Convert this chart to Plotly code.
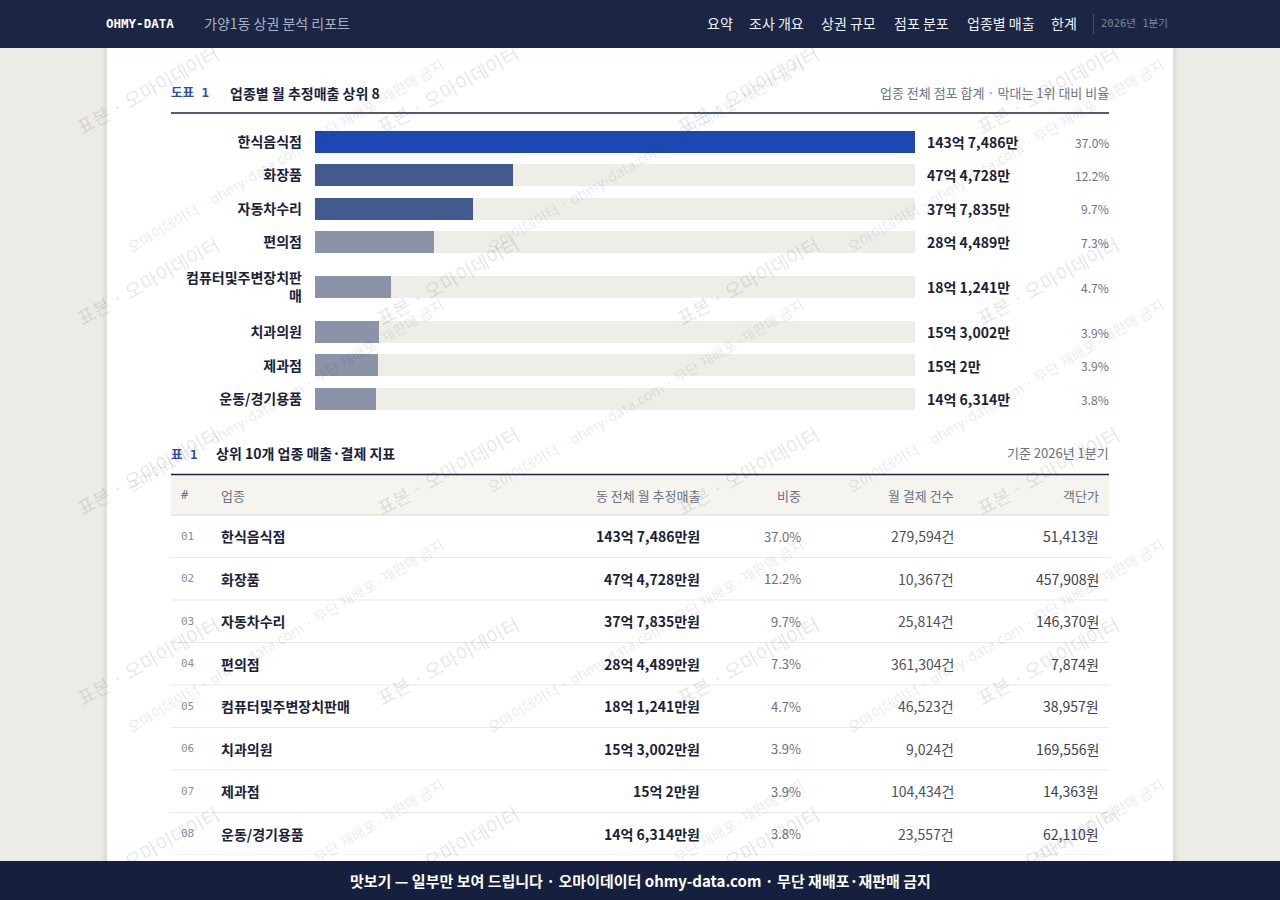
import plotly.graph_objects as go

W, H = 1280, 900

# ---------------- data ----------------
categories = ["한식음식점", "화장품", "자동차수리", "편의점",
              "컴퓨터및주변장치판매", "치과의원", "제과점", "운동/경기용품"]
sales_eok = [143.7486, 47.4728, 37.7835, 28.4489, 18.1241, 15.3002, 15.0002, 14.6314]  # 억원
share_pct = [37.0, 12.2, 9.7, 7.3, 4.7, 3.9, 3.9, 3.8]
payments = [279594, 10367, 25814, 361304, 46523, 9024, 104434, 23557]
avg_price = [51413, 457908, 146370, 7874, 38957, 169556, 14363, 62110]

nav_items = ["요약", "조사 개요", "상권 규모", "점포 분포", "업종별 매출", "한계"]
table_headers = ["#", "업종", "동 전체 월 추정매출", "비중", "월 결제 건수", "객단가"]

# ---------------- style ----------------
FONT = "Noto Sans CJK KR, Noto Sans, sans-serif"
MONO = "DejaVu Sans Mono, Noto Sans CJK KR, monospace"
NAVY = "#1b2644"
TEXT = "#1a2238"
BLUE = "#1e47b4"
MID = "#435a8e"
GRAY = "#8a93a7"
TRACK = "#efede8"
BG = "#edebe6"
SUB = "#6b7280"


def px(x):
    return x / W


def py(y):
    return 1 - y / H


def fmt_eok(v):
    eok = int(v)
    man = int(round((v - eok) * 10000))
    return f"{eok}억 {man:,}만" if man else f"{eok}억"


WRAP = 9


def wrap(s):
    return s if len(s) <= WRAP else s[:WRAP] + "<br>" + s[WRAP:]


n = len(categories)
vmax = max(sales_eok)
bar_colors = [BLUE if i == 0 else (MID if i < 3 else GRAY) for i in range(n)]

# row slot heights (wrapped labels take more room)
ROW = 33.4
EXTRA = 23.2
heights = [ROW + (EXTRA if len(c) > WRAP else 0) for c in categories]
centers = []
acc = 0.0
for h in heights:
    centers.append(acc + h / 2)
    acc += h
total = acc
BAR_TOP = 142 - heights[0] / 2

fig = go.Figure()

# track bars + value bars
fig.add_trace(go.Bar(x=[vmax] * n, y=centers, orientation="h", width=22,
                     marker=dict(color=TRACK, line=dict(width=0)), hoverinfo="skip"))
fig.add_trace(go.Bar(x=sales_eok, y=centers, orientation="h", width=22,
                     marker=dict(color=bar_colors, line=dict(width=0)), hoverinfo="skip"))

# invisible anchor for table axes
fig.add_trace(go.Scatter(x=[0.5] * n, y=list(range(n)), xaxis="x2", yaxis="y2",
                         mode="markers", marker=dict(opacity=0), hoverinfo="skip"))

TABLE_TOP = 515
ROW_H = 42.5

shapes = []
# card shadow + card
shapes.append(dict(type="rect", xref="paper", yref="paper", x0=px(102), x1=px(1178), y0=py(861), y1=py(48),
                   fillcolor="rgba(0,0,0,0.025)", line=dict(width=0), layer="below"))
shapes.append(dict(type="rect", xref="paper", yref="paper", x0=px(104.5), x1=px(1175.5), y0=py(861), y1=py(48),
                   fillcolor="rgba(0,0,0,0.03)", line=dict(width=0), layer="below"))
shapes.append(dict(type="rect", xref="paper", yref="paper", x0=px(107), x1=px(1173), y0=py(861), y1=py(48),
                   fillcolor="white", line=dict(width=0), layer="below"))
# chart title rule
shapes.append(dict(type="line", xref="paper", yref="paper", x0=px(171), x1=px(1109), y0=py(113), y1=py(113),
                   line=dict(color=NAVY, width=1.5), layer="below"))
# table header
shapes.append(dict(type="rect", xref="paper", yref="paper", x0=px(171), x1=px(1109), y0=py(TABLE_TOP), y1=py(474.5),
                   fillcolor="#f5f4ef", line=dict(width=0), layer="below"))
shapes.append(dict(type="line", xref="paper", yref="paper", x0=px(171), x1=px(1109), y0=py(474.5), y1=py(474.5),
                   line=dict(color=NAVY, width=1.5), layer="below"))
shapes.append(dict(type="line", xref="paper", yref="paper", x0=px(171), x1=px(1109), y0=py(TABLE_TOP), y1=py(TABLE_TOP),
                   line=dict(color="#dedbd2", width=1), layer="below"))
for i in range(n):
    shapes.append(dict(type="line", xref="paper", yref="y2", x0=px(171), x1=px(1109), y0=i + 0.5, y1=i + 0.5,
                       line=dict(color="#ebe9e3", width=1), layer="below"))

ann = []


def A(text, x, y, xanchor="left", size=14, color=TEXT, family=FONT, weight="normal", yref="paper", **kw):
    d = dict(text=text, x=x, y=y, xref="paper", yref=yref, xanchor=xanchor, yanchor="middle",
             showarrow=False, borderpad=0,
             font=dict(size=size, color=color, family=family, weight=weight))
    d.update(kw)
    ann.append(d)


# chart heading
A("도표 1", px(170), py(93), size=12.5, color="#2a4db8", family=MONO, weight="bold")
A("업종별 월 추정매출 상위 8", px(229), py(93), size=14, color=TEXT, weight="bold")
A("업종 전체 점포 합계 · 막대는 1위 대비 비율", px(1110), py(93), xanchor="right", size=13, color=SUB)

# value + share labels
for i in range(n):
    A(fmt_eok(sales_eok[i]), px(926), centers[i], size=14, color=TEXT, weight="bold", yref="y")
    A(f"{share_pct[i]:.1f}%", px(1110), centers[i], xanchor="right", size=12, color=SUB, yref="y")

# table heading
A("표 1", px(170), py(454), size=12.5, color="#2a4db8", family=MONO, weight="bold")
A("상위 10개 업종 매출·결제 지표", px(215), py(453), size=14, color=TEXT, weight="bold")
A("기준 2026년 1분기", px(1110), py(453), xanchor="right", size=13, color=SUB)

col_x = [180, 220, 701, 802, 955, 1100]
col_anchor = ["left", "left", "right", "right", "right", "right"]
for j, hdr in enumerate(table_headers):
    A(hdr, px(col_x[j]), py(495), xanchor=col_anchor[j], size=13 if j else 12, color=SUB,
      family=MONO if j == 0 else FONT)

for i in range(n):
    A(f"{i + 1:02d}", px(col_x[0]), i, size=11, color="#8a8f9c", family=MONO, yref="y2")
    A(categories[i], px(col_x[1]), i, size=14, color=TEXT, weight="bold", yref="y2")
    A(fmt_eok(sales_eok[i]) + "원", px(col_x[2]), i, xanchor="right", size=14, color=TEXT, weight="bold", yref="y2")
    A(f"{share_pct[i]:.1f}%", px(col_x[3]), i, xanchor="right", size=13, color=SUB, yref="y2")
    A(f"{payments[i]:,}건", px(col_x[4]), i, xanchor="right", size=14, color="#4b5060", yref="y2")
    A(f"{avg_price[i]:,}원", px(col_x[5]), i, xanchor="right", size=14, color="#3a4150", yref="y2")

# watermarks
WM1 = "표본 · 오마이데이터"
WM2 = "오마이데이터 · ohmy-data.com · 무단 재배포·재판매 금지"
for j in range(0, 5):
    for i in range(0, 4):
        ann.append(dict(text=WM1, x=px(147 + 300 * i), y=py(90 + 190 * j), xref="paper", yref="paper",
                        xanchor="center", yanchor="middle", textangle=-29, showarrow=False,
                        font=dict(size=19, color="rgba(35,40,55,0.13)", family=FONT)))
for j in range(0, 4):
    for i in range(0, 3):
        ann.append(dict(text=WM2, x=px(285 + 360 * i), y=py(155 + 240 * j), xref="paper", yref="paper",
                        xanchor="center", yanchor="middle", textangle=-30.5, showarrow=False,
                        font=dict(size=14.5, color="rgba(35,40,55,0.11)", family=FONT)))

# header bar (drawn above watermarks)
ann.append(dict(text=" ", x=0, y=1, xref="paper", yref="paper", xanchor="left", yanchor="top",
                width=W, height=48, bgcolor="#1b2645", borderpad=0, borderwidth=0, showarrow=False))
A("OHMY-DATA", px(105), py(23), size=12.5, color="#ffffff", family=MONO, weight="bold")
A("가양1동 상권 분석 리포트", px(203), py(23), size=14, color="#aab1c3")
nav_x = [706, 748, 820, 893, 966, 1050]
for t, x in zip(nav_items, nav_x):
    A(t, px(x), py(23), size=14, color="#eef0f5")
ann.append(dict(text=" ", x=px(1093), y=py(24), xref="paper", yref="paper", xanchor="center", yanchor="middle",
                width=1, height=20, bgcolor="rgba(255,255,255,0.18)", borderpad=0, borderwidth=0, showarrow=False))
A("2026년 1분기", px(1100), py(23), size=10.5, color="#7b849a", family=MONO)

# footer bar
ann.append(dict(text=" ", x=0, y=0, xref="paper", yref="paper", xanchor="left", yanchor="bottom",
                width=W, height=39, bgcolor="#15203e", borderpad=0, borderwidth=0, showarrow=False))
A("맛보기 — 일부만 보여 드립니다 · 오마이데이터 ohmy-data.com · 무단 재배포·재판매 금지",
  0.5, py(880.5), xanchor="center", size=15, color="#ffffff", weight="bold")

fig.update_layout(
    width=W, height=H,
    margin=dict(l=0, r=0, t=0, b=0),
    paper_bgcolor=BG, plot_bgcolor="rgba(0,0,0,0)",
    font=dict(family=FONT, color=TEXT),
    barmode="overlay", bargap=0,
    showlegend=False, hovermode=False,
    xaxis=dict(domain=[px(315), px(915)], range=[0, vmax], visible=False, fixedrange=True),
    yaxis=dict(domain=[py(BAR_TOP + total), py(BAR_TOP)], range=[total, 0],
               tickvals=centers, ticktext=[wrap(c) for c in categories],
               tickfont=dict(size=14, color=TEXT, family=FONT, weight="bold"),
               showgrid=False, zeroline=False, showline=False, ticks="",
               ticklabelstandoff=12, fixedrange=True),
    xaxis2=dict(domain=[px(171), px(1109)], range=[0, 1], visible=False, anchor="y2", fixedrange=True),
    yaxis2=dict(domain=[py(TABLE_TOP + ROW_H * n), py(TABLE_TOP)], range=[n - 0.5, -0.5],
                visible=False, anchor="x2", fixedrange=True),
    shapes=shapes,
    annotations=ann,
)

fig.write_html("out.html", config={"displayModeBar": False},
               post_script="document.body.style.margin='0';document.body.style.overflow='hidden';")
